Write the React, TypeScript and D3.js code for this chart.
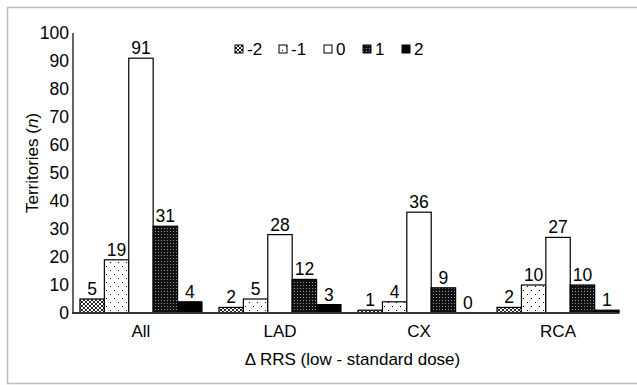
import { useRef, useEffect } from "react";
import * as d3 from "d3";

const categories = ["All", "LAD", "CX", "RCA"];
const seriesKeys = ["-2", "-1", "0", "1", "2"];
const valuesAll = [5, 19, 91, 31, 4];
const valuesLAD = [2, 5, 28, 12, 3];
const valuesCX = [1, 4, 36, 9, 0];
const valuesRCA = [2, 10, 27, 10, 1];
const yTicks = [0, 10, 20, 30, 40, 50, 60, 70, 80, 90, 100];

const W = 637;
const H = 385;
const FONT = "Arial, 'Liberation Sans', sans-serif";

export default function App() {
  const svgRef = useRef<SVGSVGElement>(null);

  useEffect(() => {
    if (!svgRef.current) return;
    const svg = d3.select(svgRef.current);
    svg.selectAll("*").remove();

    const rows = [valuesAll, valuesLAD, valuesCX, valuesRCA];

    // patterns
    const defs = svg.append("defs");
    const p2 = defs.append("pattern").attr("id", "pat-m2").attr("patternUnits", "userSpaceOnUse").attr("width", 4).attr("height", 4);
    p2.append("rect").attr("width", 4).attr("height", 4).attr("fill", "#fff");
    [[0, 0], [1, 1], [2, 2], [3, 3], [3, 0], [2, 1], [1, 2], [0, 3]].forEach(([px, py]) => {
      p2.append("rect").attr("x", px).attr("y", py).attr("width", 1).attr("height", 1).attr("fill", "#222");
    });

    const p1 = defs.append("pattern").attr("id", "pat-m1").attr("patternUnits", "userSpaceOnUse").attr("width", 8).attr("height", 8);
    p1.append("rect").attr("width", 8).attr("height", 8).attr("fill", "#fff");
    p1.append("rect").attr("x", 2).attr("y", 2).attr("width", 1).attr("height", 1).attr("fill", "#000");
    p1.append("rect").attr("x", 6).attr("y", 6).attr("width", 1).attr("height", 1).attr("fill", "#000");

    const pp1 = defs.append("pattern").attr("id", "pat-p1").attr("patternUnits", "userSpaceOnUse").attr("width", 3).attr("height", 3);
    pp1.append("rect").attr("width", 3).attr("height", 3).attr("fill", "#111");
    pp1.append("rect").attr("x", 0).attr("y", 0).attr("width", 1).attr("height", 1).attr("fill", "#999");

    const fills = ["url(#pat-m2)", "url(#pat-m1)", "#fff", "url(#pat-p1)", "#000"];

    // frame
    svg.append("rect").attr("x", 7.5).attr("y", 7.5).attr("width", 640).attr("height", 376)
      .attr("fill", "none").attr("stroke", "#bdbdbd").attr("stroke-width", 1.5);

    const x0 = d3.scaleBand<string>().domain(categories).range([73, 626])
      .paddingInner(0.1223).paddingOuter(0.05);
    const x1 = d3.scaleBand<string>().domain(seriesKeys).range([0, x0.bandwidth()]);
    const y = d3.scaleLinear().domain([0, 100]).range([313, 33]);

    // y axis
    svg.append("line").attr("x1", 73).attr("x2", 73).attr("y1", y(100)).attr("y2", y(0))
      .attr("stroke", "#666").attr("stroke-width", 2);
    svg.selectAll(".ytick").data(yTicks).enter().append("text")
      .attr("x", 69).attr("y", (d) => y(d)).attr("dy", "0.35em")
      .attr("text-anchor", "end").attr("font-family", FONT).attr("font-size", 17.5)
      .attr("fill", "#000").text((d) => d);

    // bars
    categories.forEach((c, ci) => {
      const g = svg.append("g").attr("transform", `translate(${x0(c)},0)`);
      rows[ci].forEach((v, si) => {
        const k = seriesKeys[si];
        g.append("rect").attr("x", x1(k)!).attr("y", y(v))
          .attr("width", x1.bandwidth()).attr("height", y(0) - y(v))
          .attr("fill", fills[si]).attr("stroke", "#000").attr("stroke-width", 1.2);
        g.append("text").attr("x", x1(k)! + x1.bandwidth() / 2).attr("y", y(v) - 4)
          .attr("text-anchor", "middle").attr("font-family", FONT).attr("font-size", 17.5)
          .attr("fill", "#000").text(v);
      });
      svg.append("text").attr("x", x0(c)! + x0.bandwidth() / 2).attr("y", 337)
        .attr("text-anchor", "middle").attr("font-family", FONT).attr("font-size", 17)
        .attr("fill", "#000").text(c);
    });

    // x axis baseline
    svg.append("line").attr("x1", 72).attr("x2", 618).attr("y1", y(0)).attr("y2", y(0))
      .attr("stroke", "#333").attr("stroke-width", 2);

    // axis titles
    svg.append("text").attr("x", (229 + 476) / 2).attr("y", 365).attr("text-anchor", "middle")
      .attr("font-family", FONT).attr("font-size", 17).attr("fill", "#000")
      .text("Δ RRS (low - standard dose)");
    const yl = svg.append("text").attr("transform", "translate(38,163) rotate(-90)")
      .attr("text-anchor", "middle").attr("font-family", FONT).attr("font-size", 17).attr("fill", "#000");
    yl.append("tspan").text("Territories (");
    yl.append("tspan").attr("font-style", "italic").text("n");
    yl.append("tspan").text(")");

    // legend
    const legendX = [235, 279, 324, 363, 402];
    seriesKeys.forEach((k, i) => {
      svg.append("rect").attr("x", legendX[i]).attr("y", 45).attr("width", 8).attr("height", 8)
        .attr("fill", fills[i]).attr("stroke", "#000").attr("stroke-width", 1);
      svg.append("text").attr("x", legendX[i] + 12).attr("y", 49).attr("dy", "0.35em")
        .attr("font-family", FONT).attr("font-size", 17).attr("fill", "#000").text(k);
    });
  }, []);

  return (
    <svg ref={svgRef} width={W} height={H}
      style={{ position: "fixed", left: 0, top: 0, background: "#fff" }} />
  );
}
